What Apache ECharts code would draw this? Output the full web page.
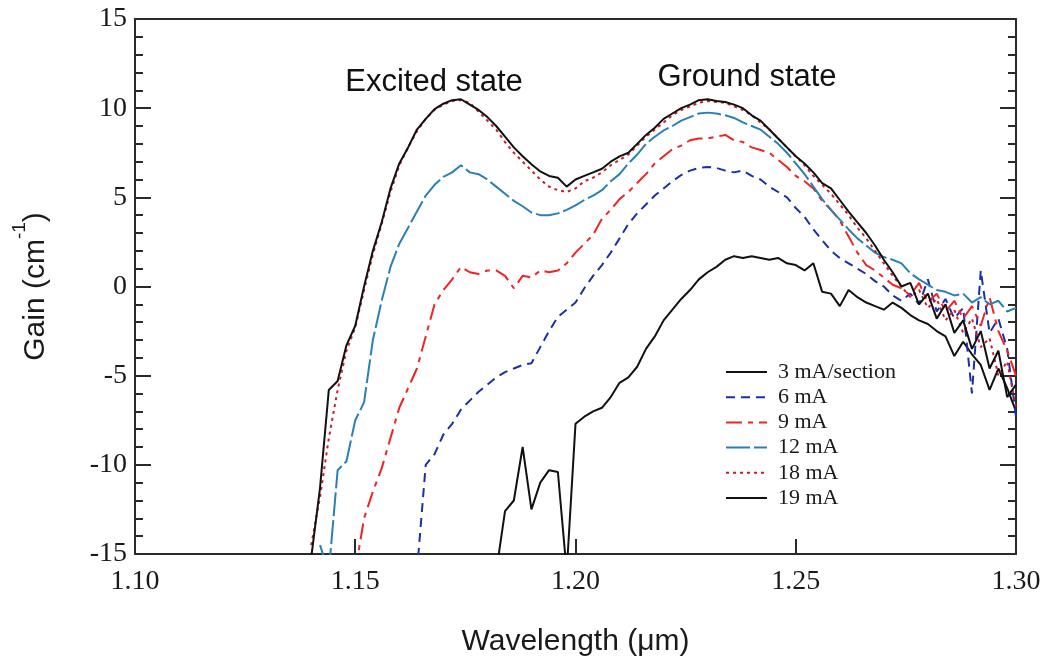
<!DOCTYPE html>
<html><head><meta charset="utf-8">
<script src="https://cdn.jsdelivr.net/npm/echarts@6/dist/echarts.min.js"></script>
<style>html,body{margin:0;padding:0;background:#fff}#c{width:1050px;height:664px}</style>
</head><body><div id="c"></div>
<script>
// Wavelength grid (µm)
const wavelength = [1.138,1.140,1.142,1.144,1.146,1.148,1.150,1.152,1.154,1.156,1.158,1.160,1.162,1.164,1.166,1.168,1.170,1.172,1.174,1.176,1.178,1.180,1.182,1.184,1.186,1.188,1.190,1.192,1.194,1.196,1.198,1.200,1.202,1.204,1.206,1.208,1.210,1.212,1.214,1.216,1.218,1.220,1.222,1.224,1.226,1.228,1.230,1.232,1.234,1.236,1.238,1.240,1.242,1.244,1.246,1.248,1.250,1.252,1.254,1.256,1.258,1.260,1.262,1.264,1.266,1.268,1.270,1.272,1.274,1.276,1.278,1.280,1.282,1.284,1.286,1.288,1.290,1.292,1.294,1.296,1.298,1.300];

// Gain (cm^-1) for each current
const gain3mA = [null,null,null,null,null,null,null,null,null,null,null,null,null,null,null,null,null,null,null,null,null,null,
 -16,-12.6,-12.0,-9.0,-12.5,-11.0,-10.3,-10.4,-16,-7.7,-7.3,-7.0,-6.8,-6.2,-5.4,-5.1,-4.5,-3.5,-2.8,-1.9,-1.3,-0.7,-0.2,0.4,0.8,1.1,1.5,1.7,1.6,1.7,1.6,1.5,1.6,1.3,1.2,0.9,1.3,-0.3,-0.4,-1.1,-0.2,-0.6,-0.9,-1.1,-1.3,-0.9,-1.2,-1.6,-1.9,-2.1,-2.5,-2.8,-3.9,-3.1,-3.8,-4.4,-5.8,-4.6,-5.7,-7.0];
const gain6mA = [null,null,null,null,null,null,null,null,null,null,null,null,null,
 -16,-10.0,-9.4,-8.3,-7.7,-6.9,-6.4,-5.9,-5.5,-5.1,-4.8,-4.6,-4.4,-4.3,-3.4,-2.5,-1.7,-1.3,-0.9,-0.1,0.6,1.2,1.9,2.7,3.5,4.1,4.6,5.1,5.5,5.9,6.25,6.5,6.65,6.7,6.65,6.5,6.4,6.5,6.2,6.0,5.6,5.3,5.0,4.4,3.9,3.2,2.6,2.0,1.6,1.3,1.0,0.7,0.3,0.0,-0.5,-0.8,-0.4,-1.0,0.4,-1.4,-0.7,-1.8,-1.2,-6.0,0.9,-2.6,-1.8,-3.5,-7.3];
const gain9mA = [null,null,null,null,null,null,
 -16,-13.0,-11.5,-10.2,-8.5,-6.8,-5.7,-4.6,-2.8,-1.0,-0.2,0.4,1.1,0.8,0.7,0.9,0.9,0.6,-0.1,0.6,0.5,0.9,0.8,0.9,1.3,1.9,2.4,2.9,3.8,4.3,4.9,5.3,5.8,6.3,6.9,7.3,7.7,7.9,8.2,8.3,8.3,8.4,8.5,8.2,8.1,7.8,7.65,7.5,7.1,6.7,6.2,5.9,5.5,4.8,4.3,3.7,2.8,1.9,1.2,0.9,0.5,0.1,-0.1,-0.5,0.2,-0.9,-0.4,-1.4,-0.8,-1.8,-1.1,-2.2,-0.6,-2.5,-3.6,-5.0];
const gain12mA = [null,null,
 -14.5,-16,-10.3,-9.8,-7.5,-6.5,-3.0,-0.8,1.1,2.4,3.3,4.2,5.1,5.7,6.15,6.4,6.8,6.4,6.3,6.0,5.6,5.2,4.8,4.5,4.15,4.0,4.0,4.1,4.3,4.55,4.85,5.1,5.4,5.9,6.3,6.9,7.4,8.0,8.4,8.75,9.0,9.3,9.5,9.7,9.75,9.7,9.6,9.45,9.2,9.0,8.8,8.4,8.0,7.5,6.9,6.3,5.6,4.9,4.3,3.75,3.2,2.7,2.3,1.9,1.65,1.5,1.3,0.75,0.4,0.1,-0.2,-0.3,-0.5,-0.4,-0.9,-0.6,-1.0,-0.8,-1.4,-1.2];
const gain18mA = [null,
 -14.5,-11.8,-8.5,-5.8,-3.6,-2.3,-0.2,1.8,3.5,5.3,6.8,7.8,8.7,9.4,9.9,10.2,10.4,10.45,10.3,9.8,9.3,8.8,8.1,7.5,7.0,6.5,6.0,5.6,5.4,5.3,5.5,5.9,6.1,6.4,6.8,7.1,7.4,7.9,8.4,8.8,9.2,9.6,9.9,10.1,10.3,10.4,10.35,10.3,10.1,9.9,9.6,9.2,8.8,8.3,7.8,7.3,6.8,6.2,5.7,5.2,4.6,4.0,3.3,2.7,2.0,1.3,0.6,0.0,-0.6,-0.2,-1.2,-0.7,-1.9,-1.3,-2.6,-1.8,-3.4,-2.9,-5.0,-4.2,-6.8];
const gain19mA = [null,
 -15.2,-11.3,-5.8,-5.3,-3.3,-2.2,0.0,2.0,3.6,5.5,6.9,7.8,8.8,9.4,9.95,10.25,10.45,10.5,10.2,9.9,9.5,9.0,8.4,7.8,7.3,6.85,6.45,6.2,6.1,5.6,6.0,6.2,6.4,6.6,7.0,7.3,7.5,8.0,8.5,8.9,9.4,9.7,10.0,10.2,10.45,10.5,10.4,10.35,10.2,10.0,9.6,9.3,8.8,8.3,7.8,7.3,6.9,6.4,5.8,5.5,4.85,4.2,3.6,3.0,2.3,1.5,0.8,0.0,0.2,-1.0,-0.4,-1.8,-1.0,-2.6,-1.9,-3.5,-2.5,-4.6,-3.6,-6.2,-5.5];

const seriesNames = ['3 mA/section','6 mA','9 mA','12 mA','18 mA','19 mA'];
const seriesData = [gain3mA, gain6mA, gain9mA, gain12mA, gain18mA, gain19mA];
const seriesColors = ['#111111','#1b2fa6','#ee2424','#2a80b4','#c81e2a','#111111'];
const seriesDash = ['solid',[9,6],[16,6,5,6],[24,4],[3,4],'solid'];

const xTicks = [1.10,1.15,1.20,1.25,1.30];
const yTicks = [-15,-10,-5,0,5,10,15];

const chart = echarts.init(document.getElementById('c'), null, {renderer:'canvas'});
const serif = '"Liberation Serif","Times New Roman",serif';
const sans = '"Liberation Sans",Arial,sans-serif';
const axisCol = '#2a2a2a';

const series = seriesNames.map((name, k) => ({
  name, type:'line', xAxisIndex:0, yAxisIndex:0,
  data: wavelength.map((w,i) => [w, seriesData[k][i]]),
  showSymbol:false, symbol:'none', connectNulls:false, clip:true,
  lineStyle:{color:seriesColors[k], width:2, type:seriesDash[k]},
  itemStyle:{color:seriesColors[k]}
}));

chart.setOption({
  animation:false,
  backgroundColor:'#ffffff',
  grid:{left:135, right:34, top:19, bottom:110},
  xAxis:[{
    type:'value', position:'bottom', min:xTicks[0], max:xTicks[xTicks.length-1], interval:0.05,
    axisLine:{show:true, onZero:false, lineStyle:{color:axisCol, width:2}},
    axisTick:{show:true, inside:true, length:15, lineStyle:{color:axisCol, width:2}},
    axisLabel:{margin:14, fontFamily:serif, fontSize:28, color:'#1a1a1a', formatter:v=>v.toFixed(2)},
    splitLine:{show:false},
    name:'Wavelength (\u03bcm)', nameLocation:'middle', nameGap:73,
    nameTextStyle:{fontFamily:sans, fontSize:30, color:'#1a1a1a'}
  },{
    type:'value', position:'top', min:xTicks[0], max:xTicks[xTicks.length-1], interval:0.05,
    axisLine:{show:true, onZero:false, lineStyle:{color:axisCol, width:2}},
    axisTick:{show:false}, axisLabel:{show:false}, splitLine:{show:false}
  }],
  yAxis:[{
    type:'value', position:'left', min:yTicks[0], max:yTicks[yTicks.length-1], interval:5,
    axisLine:{show:true, onZero:false, lineStyle:{color:axisCol, width:2}},
    axisTick:{show:true, inside:true, length:16, lineStyle:{color:axisCol, width:2}},
    minorTick:{show:true, splitNumber:5, length:8, lineStyle:{color:axisCol, width:2}},
    axisLabel:{margin:8, fontFamily:serif, fontSize:28, color:'#1a1a1a'},
    splitLine:{show:false}, minorSplitLine:{show:false},
    name:'{a|Gain (cm}{s|-1}{a|)}', nameLocation:'middle', nameGap:73,
    nameTextStyle:{rich:{
      a:{fontFamily:sans, fontSize:30, color:'#1a1a1a', lineHeight:52, verticalAlign:'middle'},
      s:{fontFamily:sans, fontSize:19, color:'#1a1a1a', lineHeight:14, verticalAlign:'top'}
    }}
  },{
    type:'value', position:'right', min:yTicks[0], max:yTicks[yTicks.length-1], interval:5,
    axisLine:{show:true, onZero:false, lineStyle:{color:axisCol, width:2}},
    axisTick:{show:true, inside:true, length:16, lineStyle:{color:axisCol, width:2}},
    minorTick:{show:true, splitNumber:5, length:8, lineStyle:{color:axisCol, width:2}},
    axisLabel:{show:false}, splitLine:{show:false}, minorSplitLine:{show:false}
  }],
  legend:{
    show:true, orient:'vertical', left:720, top:356,
    itemWidth:41, itemHeight:12, itemGap:3.2,
    data:seriesNames,
    itemStyle:{opacity:0},
    textStyle:{fontFamily:serif, fontSize:22, color:'#1a1a1a', lineHeight:22, padding:[0,0,0,6]},
    selectedMode:false
  },
  graphic:[
    {type:'text', x:434, y:82, style:{text:'Excited state', font:'31px '+sans, fill:'#111', align:'center', verticalAlign:'middle', textAlign:'center', textVerticalAlign:'middle'}},
    {type:'text', x:747, y:77, style:{text:'Ground state', font:'31px '+sans, fill:'#111', align:'center', verticalAlign:'middle', textAlign:'center', textVerticalAlign:'middle'}}
  ],
  series
});
</script></body></html>
